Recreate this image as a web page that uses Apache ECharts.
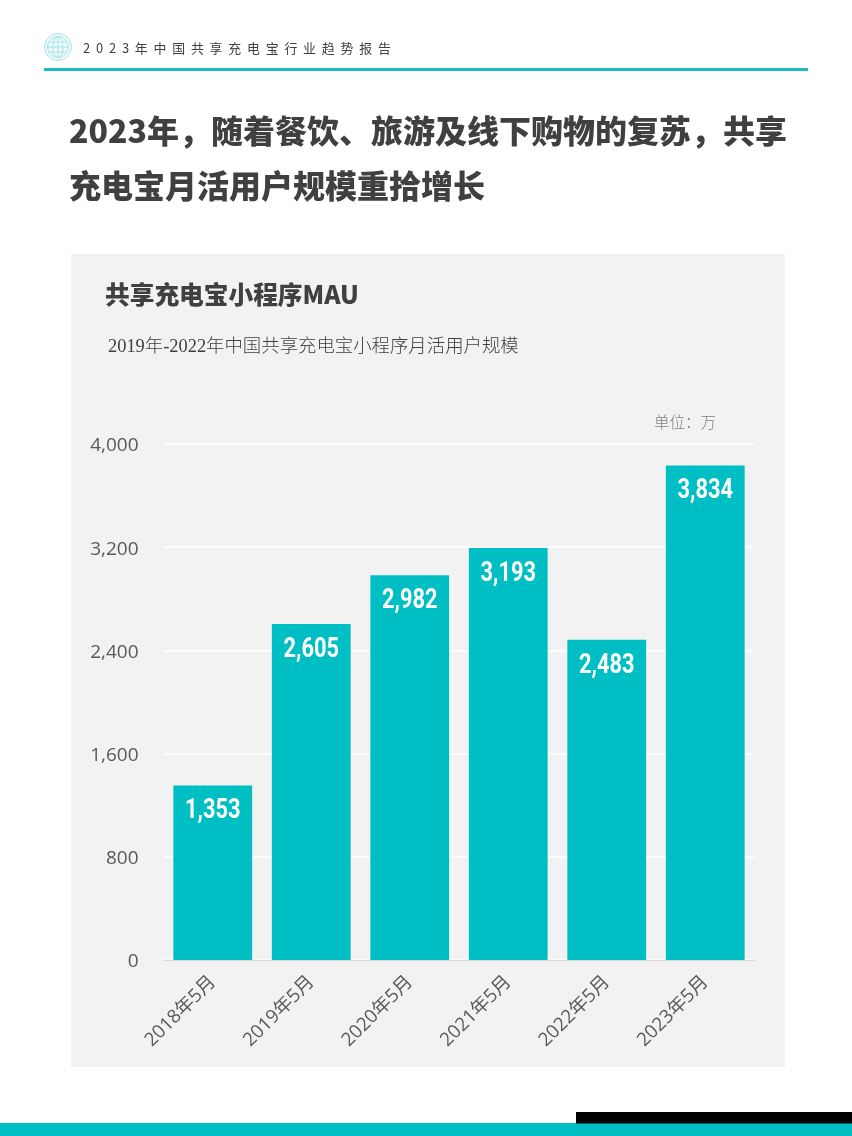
<!DOCTYPE html>
<html>
<head>
<meta charset="utf-8"/>
<title>共享充电宝小程序MAU</title>
<style>
  html, body { margin: 0; padding: 0; background: #fff; }
  #chart { width: 852px; height: 1136px; }
</style>
<script src="https://cdn.jsdelivr.net/npm/echarts@6/dist/echarts.min.js"></script>
</head>
<body>
<div id="chart"></div>
<script>
var categories = ['2018年5月', '2019年5月', '2020年5月', '2021年5月', '2022年5月', '2023年5月'];
var mauValues = [1353, 2605, 2982, 3193, 2483, 3834];

var teal = '#00bfc4';
var ring = '#a5e4e6';
var sansCn = '"Open Sans", "Noto Sans CJK SC", sans-serif';
var cjk = '"Noto Sans CJK SC", sans-serif';

// spaced out header text, canvas text has no letter spacing
var headerText = '2023年中国共享充电宝行业趋势报告'.split('').join('\u2005\u2009');
var subText = '2019年-2022年中国共享充电宝小程序月活用户规模';

var chart = echarts.init(document.getElementById('chart'), null, {renderer: 'canvas'});

function num(v) {
    return echarts.format.addCommas(v);
}

// the value labels are a condensed face, no narrow font here so squeeze Roboto
function renderValueLabel(params, api) {
    var pos = api.coord([api.value(0), api.value(1)]);
    return {
        type: 'text',
        x: pos[0],
        y: pos[1] + 26,
        scaleX: 0.78,
        style: {
            text: num(api.value(1)),
            fontFamily: 'Roboto, sans-serif',
            fontWeight: 'bold',
            fontSize: 28,
            fill: '#fff',
            align: 'center',
            verticalAlign: 'middle'
        }
    };
}

chart.setOption({
    animation: false,
    backgroundColor: '#fff',
    title: {
        text: '2023年，随着餐饮、旅游及线下购物的复苏，共享\n充电宝月活用户规模重拾增长',
        left: 64,
        top: 98,
        textStyle: {fontFamily: cjk, fontSize: 32, fontWeight: 900, color: '#404040', lineHeight: 55}
    },
    grid: {left: 163.5, right: 97.5, top: 444, bottom: 176},
    xAxis: {
        type: 'category',
        data: categories,
        axisTick: {show: false},
        axisLine: {lineStyle: {color: '#d9d9d9', width: 1}},
        axisLabel: {rotate: 45, margin: 19, fontFamily: sansCn, fontSize: 18.8, color: '#595959'}
    },
    yAxis: {
        type: 'value',
        min: 0,
        max: 4000,
        interval: 800,
        axisLine: {show: false},
        axisTick: {show: false},
        splitLine: {lineStyle: {color: '#ffffff', width: 1.5}},
        // top align with a small line height puts the digits 2px under the gridline centre
        axisLabel: {margin: 25, verticalAlign: 'top', lineHeight: 4, fontFamily: sansCn, fontSize: 19, color: '#595959', formatter: num}
    },
    series: [{
        type: 'bar',
        data: mauValues,
        barWidth: '80%',
        itemStyle: {color: teal}
    }, {
        type: 'custom',
        data: mauValues.map(function (v, i) { return [i, v]; }),
        renderItem: renderValueLabel,
        z: 5
    }],
    graphic: [
        // card behind the plot
        {type: 'rect', z: -10, shape: {x: 71, y: 254, width: 714, height: 813}, style: {fill: '#f2f2f2'}},
        // header
        {type: 'rect', shape: {x: 44, y: 68, width: 764, height: 3}, style: {fill: '#1fb8c0'}},
        {type: 'circle', shape: {cx: 58, cy: 47, r: 13.5}, style: {fill: '#f1fbfb', stroke: ring, lineWidth: 1}},
        {type: 'circle', shape: {cx: 58, cy: 47, r: 10.5}, style: {fill: 'none', stroke: ring, lineWidth: 1}},
        {type: 'ellipse', shape: {cx: 58, cy: 47, rx: 5, ry: 10.5}, style: {fill: 'none', stroke: ring, lineWidth: 1}},
        {type: 'line', shape: {x1: 58, y1: 36.5, x2: 58, y2: 57.5}, style: {stroke: ring, lineWidth: 1}},
        {type: 'line', shape: {x1: 49, y1: 42, x2: 67, y2: 42}, style: {stroke: ring, lineWidth: 1}},
        {type: 'line', shape: {x1: 47.5, y1: 47, x2: 68.5, y2: 47}, style: {stroke: ring, lineWidth: 1}},
        {type: 'line', shape: {x1: 49, y1: 52, x2: 67, y2: 52}, style: {stroke: ring, lineWidth: 1}},
        {type: 'text', x: 83, y: 48, style: {text: headerText, fontFamily: cjk, fontSize: 12.9, fill: '#404040', verticalAlign: 'middle'}},
        // chart heading
        {type: 'text', x: 105, y: 295, style: {text: '共享充电宝小程序MAU', fontFamily: cjk, fontWeight: 900, fontSize: 24.7, fill: '#404040', verticalAlign: 'middle'}},
        {type: 'text', x: 108, y: 347, style: {text: subText, fontFamily: '"Liberation Serif", ' + cjk, fontSize: 18.4, fontWeight: 300, fill: '#404040', verticalAlign: 'middle'}},
        {type: 'text', x: 654, y: 422, style: {text: '单位：万', fontFamily: cjk, fontSize: 15.5, fontWeight: 300, fill: '#7f7f7f', verticalAlign: 'middle'}},
        // footer bars
        {type: 'rect', shape: {x: 0, y: 1123, width: 852, height: 13}, style: {fill: teal}},
        {type: 'rect', shape: {x: 576, y: 1112, width: 276, height: 11.5}, style: {fill: '#000'}}
    ]
});
</script>
</body>
</html>
